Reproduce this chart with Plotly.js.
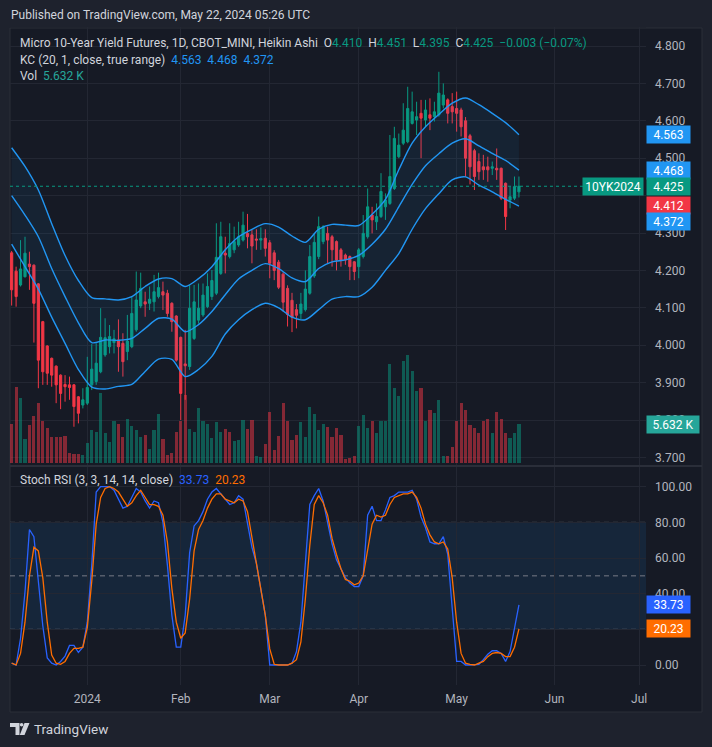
<!DOCTYPE html>
<html><head><meta charset="utf-8">
<script src="https://cdn.plot.ly/plotly-3.0.1.min.js"></script>
<style>html,body{margin:0;padding:0;background:#1e222d;overflow:hidden}</style>
</head><body><div id="chart" style="width:712px;height:747px"></div>
<script>
// ---- Heikin Ashi candles (Dec 6 2023 .. May 21 2024, daily bars) ----
const haOpen = [4.247,4.198,4.161,4.183,4.217,4.214,4.164,4.063,3.998,3.965,3.944,3.920,3.895,3.894,3.894,3.862,3.840,3.845,3.894,3.903,
3.929,3.974,3.996,4.007,4.014,4.005,3.983,3.996,4.041,4.105,4.116,4.112,4.116,4.130,4.143,4.139,4.112,4.078,4.021,3.950,
3.943,4.018,4.067,4.081,4.103,4.130,4.139,4.192,4.246,4.237,4.255,4.268,4.281,4.299,4.295,4.284,4.281,4.286,4.274,4.247,
4.222,4.190,4.152,4.120,4.095,4.085,4.095,4.139,4.185,4.237,4.277,4.299,4.290,4.277,4.255,4.241,4.237,4.223,4.210,4.237,
4.290,4.348,4.330,4.344,4.370,4.379,4.419,4.504,4.540,4.544,4.593,4.602,4.620,4.602,4.616,4.611,4.616,4.642,4.656,4.638,
4.633,4.629,4.600,4.560,4.520,4.491,4.477,4.477,4.473,4.473,4.473,4.433,4.388,4.393,4.410];
const haHigh = [4.252,4.210,4.281,4.290,4.250,4.216,4.166,4.065,4.000,3.967,3.946,3.922,3.920,3.916,3.896,3.864,3.885,3.969,4.003,4.005,
4.099,4.072,4.054,4.041,4.069,4.032,4.081,4.130,4.197,4.194,4.143,4.157,4.188,4.194,4.170,4.148,4.115,4.080,4.023,4.041,
4.161,4.161,4.165,4.165,4.192,4.201,4.326,4.330,4.290,4.326,4.317,4.330,4.357,4.351,4.308,4.310,4.315,4.310,4.281,4.254,
4.228,4.195,4.160,4.140,4.110,4.140,4.200,4.268,4.300,4.344,4.321,4.317,4.295,4.280,4.260,4.245,4.240,4.225,4.260,4.348,
4.419,4.370,4.379,4.460,4.406,4.562,4.584,4.566,4.647,4.691,4.678,4.651,4.656,4.656,4.660,4.651,4.731,4.700,4.660,4.674,
4.678,4.635,4.610,4.565,4.525,4.513,4.509,4.504,4.491,4.526,4.475,4.435,4.424,4.451,4.451];
const haLow = [4.106,4.103,4.157,4.181,4.148,4.007,3.885,3.894,3.894,3.889,3.845,3.829,3.849,3.854,3.782,3.791,3.831,3.840,3.880,3.894,
3.925,3.969,3.978,3.978,3.929,3.916,3.960,3.992,4.036,4.099,4.076,4.094,4.090,4.125,4.094,4.076,4.036,3.956,3.800,3.854,
3.934,4.014,4.058,4.076,4.099,4.121,4.134,4.188,4.192,4.232,4.246,4.263,4.277,4.259,4.219,4.255,4.255,4.237,4.179,4.174,
4.150,4.090,4.050,4.035,4.045,4.070,4.090,4.135,4.180,4.230,4.270,4.219,4.210,4.200,4.210,4.215,4.174,4.174,4.179,4.232,
4.285,4.299,4.308,4.340,4.335,4.375,4.415,4.500,4.535,4.540,4.590,4.562,4.500,4.584,4.575,4.598,4.611,4.633,4.593,4.593,
4.571,4.558,4.450,4.430,4.415,4.442,4.442,4.437,4.455,4.442,4.388,4.308,4.366,4.388,4.395];
const haClose = [4.148,4.130,4.204,4.246,4.210,4.112,3.960,3.929,3.925,3.920,3.894,3.871,3.889,3.887,3.836,3.818,3.854,3.887,3.936,3.952,
4.021,4.020,4.023,4.017,3.996,3.956,4.011,4.085,4.121,4.152,4.110,4.123,4.143,4.154,4.134,4.085,4.063,3.960,3.871,3.945,
4.099,4.116,4.099,4.134,4.157,4.173,4.235,4.290,4.241,4.272,4.277,4.290,4.321,4.290,4.265,4.281,4.285,4.259,4.219,4.200,
4.155,4.115,4.082,4.075,4.080,4.110,4.150,4.237,4.275,4.317,4.317,4.281,4.255,4.228,4.228,4.228,4.210,4.197,4.255,4.299,
4.370,4.335,4.344,4.411,4.388,4.451,4.553,4.535,4.575,4.633,4.624,4.611,4.607,4.629,4.607,4.624,4.674,4.669,4.620,4.624,
4.620,4.584,4.500,4.477,4.451,4.464,4.469,4.469,4.477,4.469,4.393,4.344,4.397,4.424,4.425];

// ---- Volume (thousands) and direction (1 = up, 0 = down) ----
const volumeK = [5.7,10.9,9.3,3.5,5.5,6.8,8.7,6.1,5.0,3.8,3.7,3.8,3.9,1.5,1.4,1.4,1.2,2.9,4.8,4.5,
10.1,4.3,3.1,6.1,5.7,3.8,6.3,5.4,4.8,3.8,4.1,2.1,4.8,7.1,3.5,1.2,1.5,4.5,6.0,9.8,
4.9,4.5,7.9,6.1,5.6,3.6,5.9,4.5,4.9,4.5,3.2,3.3,6.2,4.9,6.2,1.0,0.9,2.8,7.3,1.9,
3.9,8.7,6.0,3.3,4.1,5.9,3.7,8.0,7.1,4.8,5.6,5.2,3.7,5.0,4.1,0.6,0.7,1.0,5.3,6.9,
5.0,6.1,4.4,6.0,6.1,14.2,10.8,9.6,14.6,15.5,13.2,10.4,10.8,6.0,7.6,7.2,9.0,1.0,1.0,2.4,
6.1,8.7,7.6,5.5,5.0,4.4,6.1,6.4,4.4,7.3,6.3,4.4,3.6,4.4,5.632];
const volumeUp = [0,0,1,1,0,0,0,0,0,0,0,0,0,0,0,0,1,1,1,1,
1,1,1,1,0,0,1,1,1,1,0,1,1,1,0,0,0,0,0,0,
1,1,1,1,1,1,1,1,0,0,1,1,1,0,0,1,1,0,0,0,
0,0,0,0,0,1,1,1,1,1,1,0,0,0,0,0,0,0,1,1,
1,0,1,1,1,1,1,1,1,1,1,1,0,1,0,1,1,1,0,0,
0,0,0,0,0,0,0,0,1,0,0,0,1,1,1];

// ---- Keltner Channel (20, 1, close, true range), read at bar positions ----
const kcIdx =    [0,3,6,9,12,15,18,21,24,27,30,33,36,39,42,45,48,51,54,57,60,63,66,69,72,75,78,81,84,87,90,93,96,99,102,105,108,111,114];
const kcUpper =  [4.528,4.478,4.415,4.325,4.240,4.173,4.127,4.124,4.121,4.130,4.157,4.177,4.178,4.157,4.178,4.210,4.255,4.290,4.310,4.325,
4.316,4.292,4.275,4.310,4.323,4.321,4.320,4.350,4.390,4.469,4.540,4.584,4.617,4.647,4.661,4.643,4.620,4.595,4.563];
const kcMiddle = [4.400,4.348,4.290,4.205,4.130,4.060,4.007,4.014,4.013,4.018,4.045,4.072,4.070,4.036,4.055,4.090,4.135,4.177,4.200,4.218,
4.205,4.180,4.170,4.205,4.223,4.228,4.240,4.270,4.310,4.370,4.430,4.480,4.512,4.540,4.552,4.533,4.513,4.494,4.468];
const kcLower =  [4.270,4.210,4.150,4.075,4.005,3.935,3.888,3.883,3.890,3.895,3.930,3.963,3.962,3.916,3.935,3.970,4.030,4.068,4.095,4.112,
4.100,4.075,4.068,4.095,4.123,4.130,4.130,4.155,4.200,4.245,4.310,4.365,4.405,4.442,4.450,4.428,4.410,4.390,4.372];

// ---- Stoch RSI (3, 3, 14, 14, close) ----
const stochK = [1,0,15,41,76,72,47,22,4,1,0,2,5,11,11,7,10,24,56,97,
100,100,100,98,93,88,89,94,99,97,92,88,92,91,80,56,28,10,10,28,
63,78,81,86,93,97,99,96,93,90,91,95,93,79,66,57,42,28,0,0,
0,0,0,1,7.5,24,56,90,95,99,92,79,68,59,54,49,46,44,44,50,
84,89,81,81,87,94,95,97,97,97,98,93,83,77,69,68,68,72,62,32,
2,2,0,0,0,0.4,3,6,8,8,6.5,2,7.5,20,33.73];
const stochD = [1,0,6.5,24,50,66,64,49,24,5.6,1,0.4,2,6.5,9.3,9.3,10,21,47,79,
94,99,100,99,97,93,89,91,95,98,94,90,90,89,84,69,43,24,15,18,
37,64,76,81,88,93,96,96,93,92,91,93,92,86,72,58,43,28,9,0.4,
0,0,0,1,3,13,37,67,90,95,91,84,71,62,54,48,47,45,46,50,
65,79,84,83,84,90,94,95,96,96,97,94,88,79,73,69,68,69,65,49,
24,6.5,1,0.4,0,1,2,4.7,6.5,7,6.5,4.7,4.7,10,20.23];

// ---- Axis ticks ----
const monthTickIdx  = [17,38,58,78,100,122,141];
const monthTickText = ['2024','Feb','Mar','Apr','May','Jun','Jul'];
const priceTicks = [3.7,3.8,3.9,4.0,4.1,4.2,4.3,4.4,4.5,4.6,4.7,4.8];
const priceHidden = [4.4];          // fully covered by price badges in the reference
const stochTicks = [0,20,40,60,80,100];
const stochHidden = [20];           // fully covered by the %D badge in the reference

// ---- last values ----
const lastClose = 4.425, lastRealClose = 4.412;
const lastKC = [4.563, 4.468, 4.372];
const lastVol = 5.632;
const lastK = 33.73, lastD = 20.23;

const bars = haOpen.map((_, i) => i);

// colours
const BG = '#161a25', OUT = '#1e222d', GRID = '#232733', TXT = '#b2b5be', LEG = '#d1d4dc';
const UP = '#089981', DN = '#f23645', KCC = '#2196f3', KB = '#2962ff', DO = '#ff6d00';

// pixel helpers (plot area: x 10..646, y 27..685)
const L = 10, R = 646, T = 27, B = 685;
const px = v => (v - L) / (R - L);
const py = v => (B - v) / (B - T);

const traces = [
  { type:'bar', x:bars, y:volumeK, yaxis:'y', xaxis:'x', width:0.7,
    marker:{ color: volumeUp.map(u => u ? 'rgba(8,153,129,0.5)' : 'rgba(242,54,69,0.5)'), line:{width:0} },
    hoverinfo:'skip' },
  { type:'scatter', mode:'lines', x:kcIdx, y:kcUpper, yaxis:'y2', line:{color:KCC, width:1.4, shape:'spline', smoothing:0.8}, hoverinfo:'skip' },
  { type:'scatter', mode:'lines', x:kcIdx, y:kcLower, yaxis:'y2', line:{color:KCC, width:1.4, shape:'spline', smoothing:0.8},
    fill:'tonexty', fillcolor:'rgba(33,150,243,0.07)', hoverinfo:'skip' },
  { type:'scatter', mode:'lines', x:kcIdx, y:kcMiddle, yaxis:'y2', line:{color:KCC, width:1.4, shape:'spline', smoothing:0.8}, hoverinfo:'skip' },
  { type:'candlestick', x:bars, open:haOpen, high:haHigh, low:haLow, close:haClose, yaxis:'y2',
    increasing:{line:{color:UP, width:1}, fillcolor:UP},
    decreasing:{line:{color:DN, width:1}, fillcolor:DN},
    whiskerwidth:0, hoverinfo:'skip' },
  { type:'scatter', mode:'lines', x:bars, y:stochK, yaxis:'y3', line:{color:KB, width:1.3}, hoverinfo:'skip' },
  { type:'scatter', mode:'lines', x:bars, y:stochD, yaxis:'y3', line:{color:DO, width:1.3}, hoverinfo:'skip' }
];

const font = 'Roboto, "Liberation Sans", sans-serif';
function badge(y, yref, text, bg, w, yshift) {
  return { xref:'paper', x:1, xanchor:'left', yref:yref, y:y, yanchor:'middle', yshift:yshift||0,
    text:text, showarrow:false, bgcolor:bg, borderpad:2, width:w, height:13, align:'center',
    font:{color:'#ffffff', size:12, family:font} };
}
const sp = '\u00a0';
const g = t => `<span style="color:${UP}">${t}</span>`;
const annotations = [
  { xref:'paper', yref:'paper', x:px(9), y:py(15), xanchor:'left', yanchor:'middle', showarrow:false,
    text:'Published on TradingView.com, May 22, 2024 05:26 UTC', font:{color:LEG, size:12, family:font} },
  { xref:'paper', yref:'paper', x:px(18), y:py(43), xanchor:'left', yanchor:'middle', showarrow:false,
    text:`Micro 10-Year Yield Futures, 1D, CBOT_MINI, Heikin Ashi${sp}${sp}O${g('4.410')}${sp}${sp}H${g('4.451')}${sp}${sp}L${g('4.395')}${sp}${sp}C${g('4.425')}${sp}${sp}${g('\u22120.003 (\u22120.07%)')}`,
    font:{color:LEG, size:12, family:font} },
  { xref:'paper', yref:'paper', x:px(18), y:py(59.5), xanchor:'left', yanchor:'middle', showarrow:false,
    text:`KC (20, 1, close, true range)${sp}${sp}<span style="color:${KCC}">${lastKC[0].toFixed(3)}${sp}${sp}${lastKC[1].toFixed(3)}${sp}${sp}${lastKC[2].toFixed(3)}</span>`,
    font:{color:LEG, size:12, family:font} },
  { xref:'paper', yref:'paper', x:px(18), y:py(76), xanchor:'left', yanchor:'middle', showarrow:false,
    text:`Vol${sp}${sp}<span style="color:#26a69a">${lastVol.toFixed(3)}${sp}K</span>`,
    font:{color:LEG, size:12, family:font} },
  { xref:'paper', yref:'paper', x:px(18), y:py(480), xanchor:'left', yanchor:'middle', showarrow:false,
    text:`Stoch RSI (3, 3, 14, 14, close)${sp}${sp}<span style="color:${KB}">${lastK.toFixed(2)}</span>${sp}${sp}<span style="color:${DO}">${lastD.toFixed(2)}</span>`,
    font:{color:LEG, size:12, family:font} },
  { xref:'paper', yref:'paper', x:px(32), y:py(729), xanchor:'left', yanchor:'middle', showarrow:false,
    text:'TradingView', font:{color:LEG, size:13.5, family:font} },
  badge(lastKC[0], 'y2', lastKC[0].toFixed(3), KCC, 39, 0),
  badge(lastKC[1], 'y2', lastKC[1].toFixed(3), KCC, 39, 0),
  badge(lastClose, 'y2', lastClose.toFixed(3), UP, 39, 0),
  badge(lastRealClose, 'y2', lastRealClose.toFixed(3), DN, 39, -14),
  badge(lastKC[2], 'y2', lastKC[2].toFixed(3), KCC, 39, -15.6),
  { xref:'paper', x:px(644), xanchor:'right', yref:'y2', y:lastClose, yanchor:'middle', text:'10YK2024', showarrow:false,
    bgcolor:UP, borderpad:2, width:56, height:13, align:'center', font:{color:'#ffffff', size:12, family:font} },
  badge(lastVol, 'y', lastVol.toFixed(3)+' K', '#26a69a', 48, 0),
  badge(lastK, 'y3', lastK.toFixed(2), KB, 39, 0),
  badge(lastD, 'y3', lastD.toFixed(2), DO, 39, 0)
];

// logo path (pixel coords -> paper)
function pathPx(pts) { return 'M' + pts.map(p => px(p[0]) + ',' + py(p[1])).join(' L') + ' Z'; }
const shapes = [
  { type:'rect', xref:'paper', yref:'paper', x0:px(10), x1:px(702), y0:py(712), y1:py(28),
    fillcolor:BG, line:{color:'#2a2e39', width:1}, layer:'below' },
  { type:'line', xref:'paper', yref:'paper', x0:px(10), x1:px(702), y0:py(466), y1:py(466),
    line:{color:'#2a2e39', width:2}, layer:'above' },
  { type:'rect', xref:'paper', yref:'y3', x0:0, x1:1, y0:20, y1:80, fillcolor:'rgba(33,150,243,0.1)', line:{width:0}, layer:'below' },
  ...[80,50,20].map(v => ({ type:'line', xref:'paper', yref:'y3', x0:0, x1:1, y0:v, y1:v,
    line:{color:'#787b86', width:1, dash:'5px,4px'}, layer:'below' })),
  { type:'line', xref:'paper', yref:'y2', x0:0, x1:1, y0:lastClose, y1:lastClose,
    line:{color:UP, width:1, dash:'dot'} },
  { type:'path', xref:'paper', yref:'paper', path:pathPx([[10,723],[19.5,723],[19.5,735],[15.5,735],[15.5,727],[10,727]]),
    fillcolor:LEG, line:{width:0} },
  { type:'circle', xref:'paper', yref:'paper', x0:px(19.8), x1:px(23.4), y0:py(723), y1:py(726.6), fillcolor:LEG, line:{width:0} },
  { type:'path', xref:'paper', yref:'paper', path:pathPx([[24.5,723],[29.5,723],[24.5,735],[19.8,735]]), fillcolor:LEG, line:{width:0} }
];

const layout = {
  width:712, height:747,
  margin:{l:L, r:712-R, t:T, b:747-B},
  paper_bgcolor:OUT, plot_bgcolor:BG,
  font:{family:font, color:TXT, size:12},
  showlegend:false, bargap:0,
  xaxis:{ domain:[0,1], range:[-0.37, 142.55], anchor:'y3', tickvals:monthTickIdx, ticktext:monthTickText,
    showgrid:true, gridcolor:GRID, zeroline:false, showline:false, ticks:'', ticklabelstandoff:5,
    tickfont:{color:TXT, size:12}, rangeslider:{visible:false}, fixedrange:true },
  yaxis:{ domain:[py(465), 1], range:[-0.24, 62.5], visible:false, showgrid:false, zeroline:false, fixedrange:true },
  yaxis2:{ overlaying:'y', side:'right', anchor:'x', range:[3.6797, 4.8508], tickvals:priceTicks,
    ticktext:priceTicks.map(v => priceHidden.includes(v) ? '' : v.toFixed(3)), showgrid:true, gridcolor:GRID, zeroline:false, showline:false,
    ticks:'', ticklabelstandoff:8, tickfont:{color:TXT, size:12}, fixedrange:true },
  yaxis3:{ domain:[0, py(467)], side:'right', anchor:'x', range:[-11.22, 111.05], tickvals:stochTicks,
    ticktext:stochTicks.map(v => stochHidden.includes(v) ? '' : v.toFixed(2)), showgrid:true, gridcolor:GRID, zeroline:false, showline:false,
    ticks:'', ticklabelstandoff:8, tickfont:{color:TXT, size:12}, fixedrange:true },
  shapes:shapes, annotations:annotations
};

Plotly.newPlot('chart', traces, layout, {displayModeBar:false, staticPlot:true});
</script>
</body></html>
